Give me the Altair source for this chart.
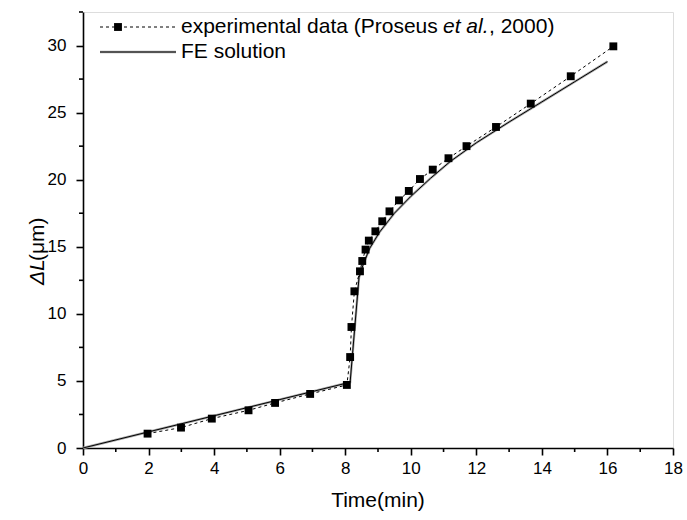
import altair as alt
import pandas as pd

# Experimental data (Proseus et al., 2000)
exp_time = [1.97, 2.99, 3.93, 5.05, 5.86, 6.93, 8.05, 8.15, 8.19, 8.28, 8.45, 8.52, 8.62,
            8.72, 8.92, 9.13, 9.35, 9.64, 9.94, 10.28, 10.67, 11.15, 11.7, 12.6, 13.66,
            14.88, 16.18]
exp_dl = [1.07, 1.52, 2.19, 2.81, 3.36, 4.03, 4.70, 6.78, 9.02, 11.68, 13.17, 13.94, 14.79,
          15.46, 16.15, 16.9, 17.64, 18.46, 19.16, 20.05, 20.75, 21.6, 22.5, 23.93, 25.67,
          27.71, 29.94]

# FE solution
fe_time = [0.0, 8.15, 8.42, 8.55, 8.75, 9.05, 9.5, 10.0, 10.6, 11.2, 12.0, 13.0, 14.0, 15.0, 16.0]
fe_dl = [0.0, 4.9, 12.7, 13.7, 14.9, 16.1, 17.5, 18.75, 20.1, 21.35, 22.75, 24.3, 25.8, 27.3, 28.8]

x_major = [0, 2, 4, 6, 8, 10, 12, 14, 16, 18]
x_minor = [1, 3, 5, 7, 9, 11, 13, 15, 17]
y_major = [0, 5, 10, 15, 20, 25, 30]
y_minor = [2.5, 7.5, 12.5, 17.5, 22.5, 27.5, 32.5]

legend_labels = ["experimental data (Proseus", "et al.", ", 2000)", "FE solution"]

exp_df = pd.DataFrame({"t": exp_time, "v": exp_dl})
fe_df = pd.DataFrame({"t": fe_time, "v": fe_dl})
xminor_df = pd.DataFrame({"t": x_minor})
yminor_df = pd.DataFrame({"v": y_minor})
one = pd.DataFrame({"k": [0]})

FONT = "Liberation Sans"
xscale = alt.Scale(domain=[0, 18], nice=False, zero=False)
yscale = alt.Scale(domain=[0, 32.5], nice=False)

xaxis = alt.Axis(
    values=x_major, title=None, grid=False, tickSize=7,
    labelPadding=5, labelFont=FONT, labelFontSize=17, labelColor="black",
    domainColor="black", tickColor="black", domainWidth=1.6, tickWidth=1.6,
    labelOverlap=False, labelFlush=False,
)
yaxis = alt.Axis(
    values=y_major, title=None, grid=False, tickSize=7,
    labelPadding=10, labelFont=FONT, labelFontSize=17, labelColor="black",
    domainColor="black", tickColor="black", domainWidth=1.6, tickWidth=1.6,
    labelOverlap=False, labelFlush=False,
)

fe_shadow = alt.Chart(fe_df).mark_line(color="#a8a8a8", strokeWidth=2.4).encode(
    x=alt.X("t:Q", scale=xscale, axis=xaxis), y=alt.Y("v:Q", scale=yscale, axis=yaxis))
fe_line = alt.Chart(fe_df).mark_line(color="black", strokeWidth=1.0).encode(x="t:Q", y="v:Q")
exp_line = alt.Chart(exp_df).mark_line(color="black", strokeWidth=1, strokeDash=[3, 3]).encode(x="t:Q", y="v:Q")
exp_pts = alt.Chart(exp_df).mark_square(color="black", size=62, opacity=1).encode(x="t:Q", y="v:Q")

# minor ticks
x_minor_ticks = alt.Chart(xminor_df).mark_rule(color="black", strokeWidth=1.6).encode(
    x="t:Q", y=alt.value(436), y2=alt.value(440))
y_minor_ticks = alt.Chart(yminor_df).mark_rule(color="black", strokeWidth=1.6).encode(
    y="v:Q", x=alt.value(0), x2=alt.value(-4))

# Legend (drawn manually)
r1 = 27 - 12
r2 = 52 - 12
lx0, lx1 = 100 - 83, 176 - 83
leg_dash = alt.Chart(one).mark_rule(color="black", strokeWidth=1, strokeDash=[3, 3]).encode(
    x=alt.value(lx0), x2=alt.value(lx1), y=alt.value(r1))
leg_sq = alt.Chart(one).mark_square(color="black", size=62, opacity=1).encode(
    x=alt.value(118 - 83), y=alt.value(r1))
leg_fe_sh = alt.Chart(one).mark_rule(color="#a8a8a8", strokeWidth=2.4).encode(
    x=alt.value(lx0), x2=alt.value(lx1), y=alt.value(r2))
leg_fe = alt.Chart(one).mark_rule(color="black", strokeWidth=1.0).encode(
    x=alt.value(lx0), x2=alt.value(lx1), y=alt.value(r2))

LFS = 21
tx = 181 - 83
t1 = alt.Chart(one).mark_text(align="left", baseline="middle", font=FONT, fontSize=LFS, color="black").encode(
    x=alt.value(tx), y=alt.value(r1), text=alt.value(legend_labels[0]))
t2 = alt.Chart(one).mark_text(align="left", baseline="middle", font=FONT, fontSize=LFS, fontStyle="italic", color="black").encode(
    x=alt.value(443 - 83), y=alt.value(r1), text=alt.value(legend_labels[1]))
t3 = alt.Chart(one).mark_text(align="left", baseline="middle", font=FONT, fontSize=LFS, color="black").encode(
    x=alt.value(443 - 83 + 46), y=alt.value(r1), text=alt.value(legend_labels[2]))
t4 = alt.Chart(one).mark_text(align="left", baseline="middle", font=FONT, fontSize=LFS, color="black").encode(
    x=alt.value(tx), y=alt.value(r2), text=alt.value(legend_labels[3]))

# Axis titles
xtitle = alt.Chart(one).mark_text(align="center", baseline="middle", font=FONT, fontSize=21, color="black").encode(
    x=alt.value(295), y=alt.value(489), text=alt.value("Time(min)"))
ytitle1 = alt.Chart(one).mark_text(align="left", baseline="middle", angle=270, font=FONT, fontSize=21,
                                   fontStyle="italic", color="black").encode(
    x=alt.value(-45), y=alt.value(273), text=alt.value("ΔL"))
ytitle2 = alt.Chart(one).mark_text(align="left", baseline="middle", angle=270, font=FONT, fontSize=21,
                                   color="black").encode(
    x=alt.value(-45), y=alt.value(249), text=alt.value("(μm)"))

chart = alt.layer(
    fe_shadow, fe_line, exp_line, exp_pts, x_minor_ticks, y_minor_ticks,
    leg_dash, leg_sq, leg_fe_sh, leg_fe, t1, t2, t3, t4,
    xtitle, ytitle1, ytitle2,
).properties(
    width=590, height=436,
    autosize="none",
    padding={"left": 83, "top": 12, "right": 14, "bottom": 72},
).configure_view(stroke=None).configure(background="white")

chart.save("out.html", embed_options={"renderer": "svg", "actions": False})
